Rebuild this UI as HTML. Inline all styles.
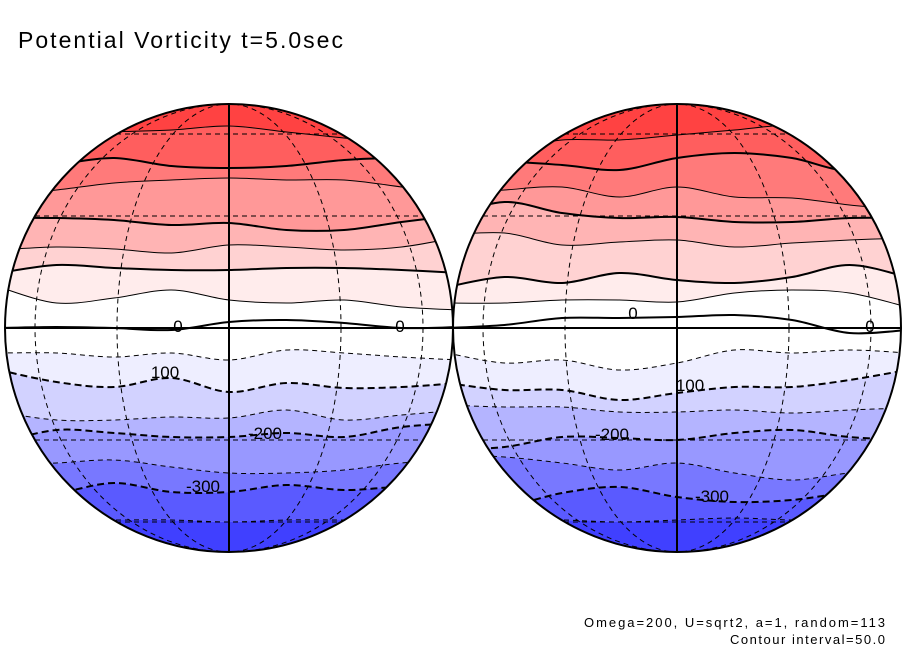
<!DOCTYPE html>
<html><head><meta charset="utf-8">
<style>
html,body{margin:0;padding:0;background:#fff;}
svg{display:block;font-family:"Liberation Sans",sans-serif;}
</style></head>
<body>
<svg id="chart" width="904" height="654" viewBox="0 0 904 654">
<text x="18" y="48" font-size="23" textLength="325" lengthAdjust="spacing" fill="#000">Potential Vorticity t=5.0sec</text>
<text x="885" y="627" font-size="13" text-anchor="end" textLength="301" lengthAdjust="spacing" fill="#000">Omega=200, U=sqrt2, a=1, random=113</text>
<text x="885" y="644" font-size="13" text-anchor="end" textLength="155" lengthAdjust="spacing" fill="#000">Contour interval=50.0</text>
<g id="globes"></g>
</svg>
<script>
// contour levels (top to bottom)
const levels = [350,300,250,200,150,100,50,0,-50,-100,-150,-200,-250,-300,-350];
// band fill colours: above first level, then between successive levels, then below last
const bandColors = ["#ff4242","#ff5e5e","#ff7a7a","#ff9898","#ffb4b4","#ffd2d2","#ffecec","#ffffff","#ffffff","#eeeeff","#d2d2ff","#b4b4ff","#9898ff","#7878ff","#5a5aff","#4040ff"];
// contour y samples at 9 evenly spaced columns across each globe
const leftContours = [
 [142,136,132,130,126,132,138,145,150],
 [165,164,158,166,168,166,160,158,160],
 [195,190,183,180,178,180,180,187,195],
 [218,218,220,225,223,230,230,222,215],
 [250,247,249,253,245,247,250,247,237],
 [273,265,268,270,270,268,268,270,273],
 [287,303,298,290,300,303,300,307,310],
 [328,327,328,330,322,320,323,328,327],
 [353,353,357,353,360,350,353,357,360],
 [370,382,387,378,392,383,388,387,383],
 [412,420,420,417,418,410,420,415,410],
 [443,430,433,437,437,433,437,427,423],
 [465,463,460,467,473,473,470,463,460],
 [495,493,483,492,492,485,490,487,490],
 [520,520,520,520,522,520,520,520,520]
];
const rightContours = [
 [150,150,140,140,135,130,125,130,140],
 [165,162,165,170,158,153,158,170,150],
 [195,190,187,197,187,197,198,205,210],
 [217,202,213,218,217,222,222,218,218],
 [235,233,245,242,240,247,243,240,238],
 [287,277,283,273,280,283,277,265,277],
 [303,303,300,300,302,293,290,293,307],
 [328,325,318,318,317,315,320,333,330],
 [353,363,360,370,363,350,353,350,353],
 [383,390,390,400,393,387,387,380,370],
 [405,407,407,412,412,410,413,410,408],
 [450,447,437,438,440,433,430,437,440],
 [455,457,463,470,463,473,480,473,470],
 [510,507,493,487,497,502,500,493,495],
 [520,520,520,522,520,518,520,520,520]
];
const leftLabels = [["0",178,332],["0",400,332],["100",165,378],["-200",265,439],["-300",203,492]];
const rightLabels = [["0",633,319],["0",870,332],["100",690,391],["-200",612,440],["-300",712,502]];

const NS="http://www.w3.org/2000/svg";
const CY=328, R=224;
function mk(tag,attrs,parent){const e=document.createElementNS(NS,tag);for(const k in attrs)e.setAttribute(k,attrs[k]);parent.appendChild(e);return e;}
function pts(cx,ys){const n=ys.length;return ys.map((y,i)=>[cx-R-6+(2*R+12)*i/(n-1),y]);}
function smooth(p,start){let d=start?`M${p[0][0]},${p[0][1]}`:`L${p[0][0]},${p[0][1]}`;
 for(let i=0;i<p.length-1;i++){const p0=p[Math.max(i-1,0)],p1=p[i],p2=p[i+1],p3=p[Math.min(i+2,p.length-1)];
  const c1=[p1[0]+(p2[0]-p0[0])/6,p1[1]+(p2[1]-p0[1])/6],c2=[p2[0]-(p3[0]-p1[0])/6,p2[1]-(p3[1]-p1[1])/6];
  d+=` C${c1[0]},${c1[1]} ${c2[0]},${c2[1]} ${p2[0]},${p2[1]}`;}return d;}
function drawGlobe(cx,contours,labels,idx){
 const root=document.getElementById('globes');
 const g=mk('g',{},root);
 
 
 const cid='clip'+idx;
 const cp=mk('clipPath',{id:cid},mk('defs',{},g));
 mk('circle',{cx:cx,cy:CY,r:R},cp);
 const inner=mk('g',{'clip-path':`url(#${cid})`},g);
 const L=cx-R-6,Rr=cx+R+6;
 for(let b=0;b<=contours.length;b++){
  let d;
  if(b===0){const p=pts(cx,contours[0]);d=`M${L},${CY-R-5} L${Rr},${CY-R-5} `+smooth(p.slice().reverse(),false)+' Z';}
  else if(b===contours.length){const p=pts(cx,contours[b-1]);d=smooth(p,true)+` L${Rr},${CY+R+5} L${L},${CY+R+5} Z`;}
  else{const a=pts(cx,contours[b-1]),c=pts(cx,contours[b]);d=smooth(a,true)+' '+smooth(c.slice().reverse(),false)+' Z';}
  const band=mk('path',{d:d,fill:bandColors[b]},inner);
  
  
 }
 [30,60,-30,-60].forEach(lat=>{const y=CY-R*Math.sin(lat*Math.PI/180);
  const l=mk('line',{x1:L,x2:Rr,y1:y,y2:y,stroke:'#000','stroke-width':1,'stroke-dasharray':'5,4'},inner);
  
  });
 [30,60].forEach(lon=>{const e=mk('ellipse',{cx:cx,cy:CY,rx:R*Math.sin(lon*Math.PI/180),ry:R,fill:'none',stroke:'#000','stroke-width':1,'stroke-dasharray':'5,4'},inner);
  
  });
 contours.forEach((ys,i)=>{const lev=levels[i];const thick=lev%100===0;
  const c=mk('path',{d:smooth(pts(cx,ys),true),fill:'none',stroke:'#000','stroke-width':thick?2:1},inner);
  if(lev<0)c.setAttribute('stroke-dasharray',thick?'7,4':'5,4');
  
  });
 const cm=mk('line',{x1:cx,x2:cx,y1:CY-R,y2:CY+R,stroke:'#000','stroke-width':2},g);
 
 
 const eq=mk('line',{x1:cx-R,x2:cx+R,y1:CY,y2:CY,stroke:'#000','stroke-width':2},g);
 
 
 const outline=mk('circle',{cx:cx,cy:CY,r:R,fill:'none',stroke:'#000','stroke-width':2},g);
 
 
 labels.forEach(lb=>{const t=mk('text',{x:lb[1],y:lb[2],'font-size':17,'text-anchor':'middle',fill:'#000'},g);
  t.textContent=lb[0];
  
  });
}
drawGlobe(229,leftContours,leftLabels,'left');
drawGlobe(677,rightContours,rightLabels,'right');
</script>
</body></html>
